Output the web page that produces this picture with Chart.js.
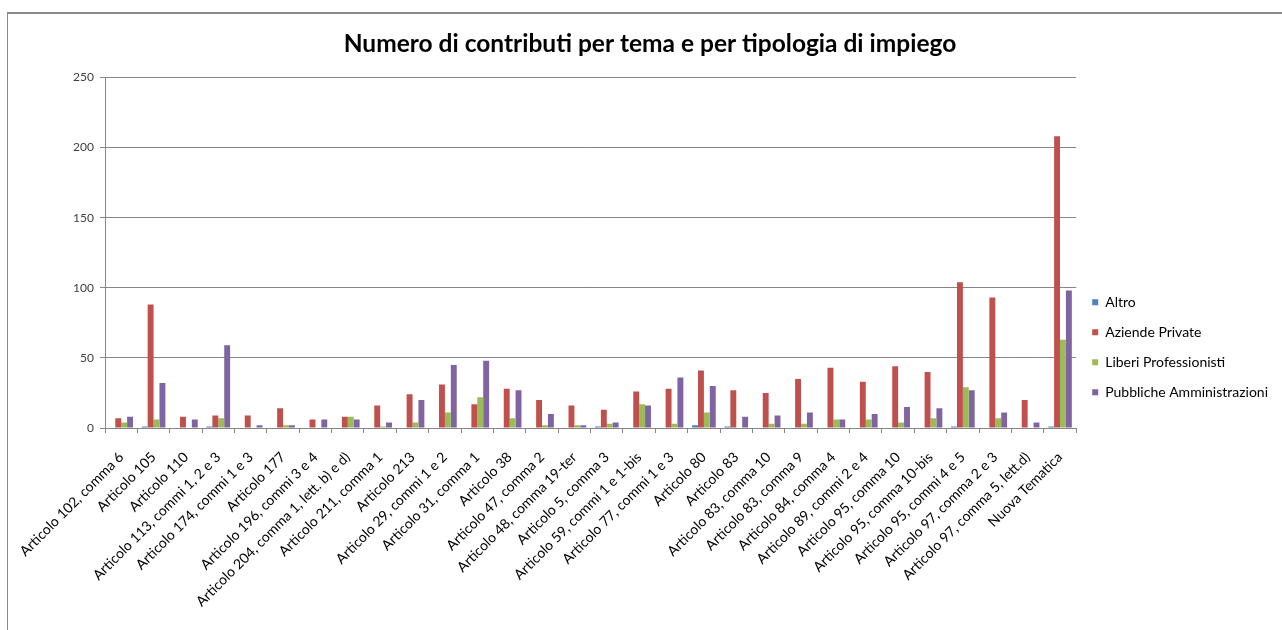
<!DOCTYPE html>
<html lang="it">
<head>
<meta charset="utf-8">
<title>Numero di contributi per tema e per tipologia di impiego</title>
<script src="https://cdn.jsdelivr.net/npm/chart.js@4.4.1/dist/chart.umd.min.js"></script>
<style>
  body { margin: 0; background: #fff; }
  #wrap { position: relative; width: 1282px; height: 630px; }
  #grafico { position: absolute; left: 0; top: 0; }
  #cornice {
    position: absolute; left: 7px; top: 12px; right: 0; bottom: 0;
    border-left: 1px solid #8a8a8a; border-top: 2px solid #8a8a8a;
    pointer-events: none;
  }
</style>
</head>
<body>
<div id="wrap">
  <canvas id="grafico" width="1282" height="630"></canvas>
  <div id="cornice"></div>
</div>
<script>
// temi (asse x)
const temi = [
  'Articolo 102, comma 6', 'Articolo 105', 'Articolo 110', 'Articolo 113, commi 1, 2 e 3',
  'Articolo 174, commi 1 e 3', 'Articolo 177', 'Articolo 196, commi 3 e 4',
  'Articolo 204, comma 1, lett. b) e d)', 'Articolo 211, comma 1', 'Articolo 213',
  'Articolo 29, commi 1 e 2', 'Articolo 31, comma 1', 'Articolo 38', 'Articolo 47, comma 2',
  'Articolo 48, comma 19-ter', 'Articolo 5, comma 3', 'Articolo 59, commi 1 e 1-bis',
  'Articolo 77, commi 1 e 3', 'Articolo 80', 'Articolo 83', 'Articolo 83, comma 10',
  'Articolo 83, comma 9', 'Articolo 84, comma 4', 'Articolo 89, commi 2 e 4',
  'Articolo 95, comma 10', 'Articolo 95, comma 10-bis', 'Articolo 95, commi 4 e 5',
  'Articolo 97, comma 2 e 3', 'Articolo 97, comma 5, lett.d)', 'Nuova Tematica'
];

// contributi per tipologia di impiego
const altro =       [0, 1, 0, 1, 0, 0, 0, 0, 0, 0, 0, 0, 0, 0, 0, 1, 0, 0, 2, 1, 0, 0, 0, 0, 0, 0, 1, 0, 0, 1];
const aziende =     [7, 88, 8, 9, 9, 14, 6, 8, 16, 24, 31, 17, 28, 20, 16, 13, 26, 28, 41, 27, 25, 35, 43, 33, 44, 40, 104, 93, 20, 208];
const liberi =      [4, 6, 0, 7, 0, 2, 0, 8, 1, 4, 11, 22, 7, 2, 2, 3, 17, 3, 11, 0, 3, 3, 6, 6, 4, 7, 29, 7, 0, 63];
const pubbliche =   [8, 32, 6, 59, 2, 2, 6, 6, 4, 20, 45, 48, 27, 10, 2, 4, 16, 36, 30, 8, 9, 11, 6, 10, 15, 14, 27, 11, 4, 98];

const serie = ['Altro', 'Aziende Private', 'Liberi Professionisti', 'Pubbliche Amministrazioni'];
const colori = ['#4f81bd', '#c0504d', '#9bbb59', '#8064a2'];
const tickY = [0, 50, 100, 150, 200, 250];

const grigio = '#868686';

const ctx = document.getElementById('grafico').getContext('2d');
new Chart(ctx, {
  type: 'bar',
  data: {
    labels: temi,
    datasets: [altro, aziende, liberi, pubbliche].map((valori, i) => ({
      label: serie[i],
      data: valori,
      backgroundColor: colori[i],
      borderWidth: 0,
      categoryPercentage: 0.73,
      barPercentage: 1.0
    }))
  },
  options: {
    responsive: false,
    animation: false,
    layout: { padding: { top: 12, right: 4, left: 22, bottom: 12 } },
    plugins: {
      title: {
        display: true,
        text: 'Numero di contributi per tema e per tipologia di impiego',
        color: '#000',
        font: { family: 'Lato', size: 24.5, weight: 'bold' },
        padding: { top: 17, bottom: 19 }
      },
      legend: {
        position: 'right',
        align: 'center',
        // titolo vuoto: solo per abbassare un po' le voci
        title: { display: true, text: '', padding: { top: 50, bottom: 0 } },
        labels: {
          boxWidth: 6,
          boxHeight: 6,
          padding: 16,
          color: '#000',
          font: { family: 'Lato', size: 14 }
        }
      },
      tooltip: { enabled: false }
    },
    scales: {
      x: {
        grid: { drawOnChartArea: false, drawTicks: true, tickLength: 5, color: grigio },
        border: { color: grigio },
        ticks: {
          autoSkip: false,
          minRotation: 45,
          maxRotation: 45,
          padding: 16,
          color: '#000',
          font: { family: 'Lato', size: 14 }
        },
        afterFit: (scala) => { scala.height = 190; }
      },
      y: {
        min: 0,
        max: 250,
        afterBuildTicks: (scala) => { scala.ticks = tickY.map(v => ({ value: v })); },
        grid: { color: grigio, tickLength: 5 },
        border: { color: grigio },
        ticks: {
          padding: 6,
          color: '#404040',
          font: { family: 'Lato', size: 12 }
        },
        afterFit: (scala) => { scala.width = 83; }
      }
    }
  }
});
</script>
</body>
</html>
